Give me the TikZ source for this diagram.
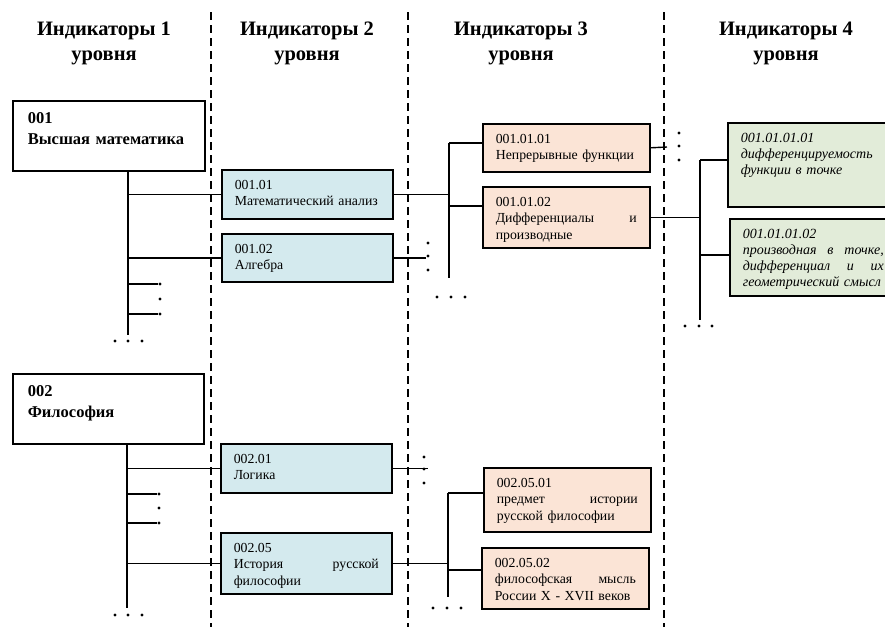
\documentclass[tikz,border=0pt]{standalone}
\usepackage{fontspec}
\setmainfont{Liberation Serif}
\definecolor{bluebox}{RGB}{212,234,238}
\definecolor{orangebox}{RGB}{251,228,214}
\definecolor{greenbox}{RGB}{226,236,217}
\newcommand\jfill{\hspace{0pt plus 1filll}}
\begin{document}
\begin{tikzpicture}[x=1pt,y=-1pt,
 hdr/.style={align=center, font=\fontsize{20.5}{25}\selectfont\bfseries, inner sep=0pt},
 sepline/.style={line width=2pt, dash pattern=on 8pt off 5pt},
 box/.style={draw, line width=1.6pt, anchor=north west, align=left, inner xsep=13pt, inner ysep=10pt, text height=9.5pt, font=\fontsize{13.8}{16.5}\selectfont},
 lvlone/.style={box, fill=white, inner xsep=15pt, inner ysep=11pt, text height=11.5pt, text depth=36.5pt, font=\fontsize{16.5}{21}\selectfont\bfseries},
 lvltwo/.style={box, fill=bluebox, text width=145pt},
 lvlthree/.style={box, fill=orangebox, text width=141pt},
 lvlfour/.style={box, fill=greenbox, text width=141pt, font=\fontsize{14}{16}\selectfont\itshape},
 link/.style={line width=1.4pt},
 dot/.style={circle, fill=black, inner sep=0pt, minimum size=3.4pt}
]
\useasboundingbox (0,0) rectangle (885,627);
\clip (0,0) rectangle (885,627);

% column separators
\draw[sepline] (211,12) -- (211,627);
\draw[sepline] (408,12) -- (408,627);
\draw[sepline] (664,12) -- (664,627);

% headers
\node[hdr] (h1) at (104,43) {Индикаторы 1\\уровня};
\node[hdr] (h2) at (307,43) {Индикаторы 2\\уровня};
\node[hdr] (h3) at (521,43) {Индикаторы 3\\уровня};
\node[hdr] (h4) at (786,43) {Индикаторы 4\\уровня};

% level 1
\node[lvlone, text width=162pt] (b001) at (12,100) {001\\Высшая математика};
\node[lvlone, text width=161pt] (b002) at (12,373) {002\\Философия};

% level 2
\node[lvltwo, text depth=19.5pt] (b00101) at (221,169) {001.01\\Математический анализ};
\node[lvltwo, text depth=18.5pt] (b00102) at (221,233) {001.02\\Алгебра};
\node[lvltwo, text depth=19.5pt] (b00201) at (220,443) {002.01\\Логика};
\node[lvltwo, text depth=31.5pt] (b00205) at (220,532) {002.05\\История\jfill русской\\философии};

% level 3
\node[lvlthree, text depth=18.5pt] (c010101) at (482,123) {001.01.01\\Непрерывные функции};
\node[lvlthree, text depth=31.5pt] (c010102) at (482,186) {001.01.02\\Дифференциалы\jfill и\\производные};
\node[lvlthree, text depth=34.5pt] (c020501) at (483,467) {002.05.01\\предмет\jfill истории\\русской философии};
\node[lvlthree, text depth=31.5pt] (c020502) at (481,547) {002.05.02\\философская\jfill мысль\\России X - XVII веков};

% level 4
\node[lvlfour, text depth=54.5pt] (g1) at (727,122) {001.01.01.01\\дифференцируемость\\функции в точке};
\node[lvlfour, text depth=47.5pt] (g2) at (729,218) {001.01.01.02\\производная\jfill в\jfill точке,\\дифференциал\jfill и\jfill их\\геометрический смысл};

% ---- trunk under 001
\coordinate (t1) at (128,335);
\draw[link] (t1 |- b001.south) -- (t1);
\draw[link] (t1 |- b00101.west) -- (b00101.west);
\draw[link] (t1 |- b00102.west) -- (b00102.west);
\node[dot] (d11) at (160,284) {};
\node[dot] (d12) at (160,299) {};
\node[dot] (d13) at (160,314) {};
\draw[link] (t1 |- d11) -- (d11.west);
\draw[link] (t1 |- d13) -- (d13.west);
\node[dot] (e11) at (115,341) {};
\node[dot] (e12) at (128,341) {};
\node[dot] (e13) at (142,341) {};

% after 001.02
\node[dot] (d21) at (428,243) {};
\node[dot] (d22) at (428,256) {};
\node[dot] (d23) at (428,270) {};
\draw[link] (b00102.east) -- (b00102.east -| d22.west);

% trunk after 001.01
\coordinate (j21) at (449,143);
\coordinate (j22) at (449,206);
\coordinate (t2) at (449,278);
\draw[link] (j21) -- (t2);
\draw[link] (b00101.east) -- (b00101.east -| t2);
\draw[link] (j21) -- (j21 -| c010101.west);
\draw[link] (j22) -- (j22 -| c010102.west);
\node[dot] (e21) at (437,297) {};
\node[dot] (e22) at (451,297) {};
\node[dot] (e23) at (465,297) {};

% after 001.01.01
\coordinate (s31) at (667,147);
\draw[link] (c010101.east) -- (s31);
\node[dot] (d31) at (679,133) {};
\node[dot] (d32) at (679,146) {};
\node[dot] (d33) at (679,160) {};

% trunk after 001.01.02
\coordinate (j41) at (700,160);
\coordinate (j42) at (700,255);
\coordinate (t3) at (700,320);
\draw[link] (j41) -- (t3);
\draw[link] (c010102.east) -- (c010102.east -| t3);
\draw[link] (j41) -- (j41 -| g1.west);
\draw[link] (j42) -- (j42 -| g2.west);
\node[dot] (e41) at (685,326) {};
\node[dot] (e42) at (699,326) {};
\node[dot] (e43) at (712,326) {};

% ---- trunk under 002
\coordinate (t5) at (127,608);
\draw[link] (t5 |- b002.south) -- (t5);
\draw[link] (t5 |- b00201.west) -- (b00201.west);
\draw[link] (t5 |- b00205.west) -- (b00205.west);
\node[dot] (d51) at (159,494) {};
\node[dot] (d52) at (159,508) {};
\node[dot] (d53) at (159,523) {};
\draw[link] (t5 |- d51) -- (d51.west);
\draw[link] (t5 |- d53) -- (d53.west);
\node[dot] (e51) at (115,615) {};
\node[dot] (e52) at (128,615) {};
\node[dot] (e53) at (142,615) {};

% after 002.01
\node[dot] (d61) at (424,457) {};
\node[dot] (d62) at (424,469) {};
\node[dot] (d63) at (424,483) {};
\coordinate (s61) at (428,467);
\draw[link] (b00201.east) -- (b00201.east -| s61);

% trunk after 002.05
\coordinate (j71) at (448,493);
\coordinate (j72) at (448,570);
\coordinate (t4) at (448,597);
\draw[link] (j71) -- (t4);
\draw[link] (b00205.east) -- (b00205.east -| t4);
\draw[link] (j71) -- (j71 -| c020501.west);
\draw[link] (j72) -- (j72 -| c020502.west);
\node[dot] (e71) at (433,608) {};
\node[dot] (e72) at (447,608) {};
\node[dot] (e73) at (461,608) {};
\end{tikzpicture}
\end{document}
